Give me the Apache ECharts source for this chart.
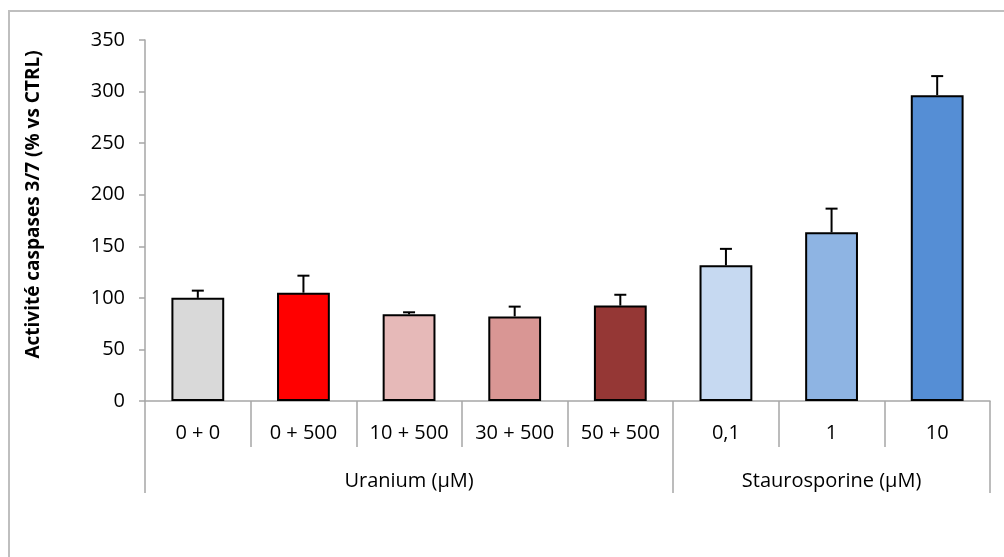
<!DOCTYPE html>
<html>
<head>
<meta charset="utf-8">
<script src="https://cdn.jsdelivr.net/npm/echarts@6/dist/echarts.min.js"></script>
<style>
  html, body { margin: 0; padding: 0; background: #fff; }
  #chart { width: 1004px; height: 557px; }
</style>
</head>
<body>
<div id="chart"></div>
<script>
// categories (level 1) and groups (level 2)
var categories = ["0 + 0", "0 + 500", "10 + 500", "30 + 500", "50 + 500", "0,1", "1", "10"];
var groupNames = ["Uranium (µM)", "Staurosporine (µM)"];
var groupBounds = [0, 5, 8]; // category index where each group starts / ends
// mean activity (% vs CTRL) and upper error
var means = [100, 105, 84, 82, 92.5, 131.5, 163.5, 296.5];
var errors = [7, 16.5, 2, 9.5, 10.5, 16, 23, 18.5];
var barColors = ["#D9D9D9", "#FF0000", "#E6B9B8", "#D99694", "#953735", "#C6D9F1", "#8EB4E3", "#558ED5"];
var yTicks = [0, 50, 100, 150, 200, 250, 300, 350];

var font = '"Open Sans", "Liberation Sans", sans-serif';
var axisGrey = "#A6A6A6";

var chart = echarts.init(document.getElementById("chart"));

var groupCenters = [];
for (var g = 0; g < groupNames.length; g++) {
  groupCenters.push((groupBounds[g] + groupBounds[g + 1]) / 2);
}

var option = {
  backgroundColor: "#fff",
  animation: false,
  graphic: [
    {
      // chart frame (Excel chart area border)
      type: "polyline",
      silent: true,
      shape: { points: [[9, 600], [9, 11], [1100, 11]] },
      style: { stroke: "#BFBFBF", lineWidth: 2, fill: null }
    }
  ],
  grid: {
    left: 145,
    right: 14,
    top: 40,
    bottom: 156,
    containLabel: false
  },
  xAxis: [
    {
      type: "category",
      data: categories,
      boundaryGap: true,
      axisLine: { show: true, lineStyle: { color: axisGrey, width: 1.5 } },
      axisTick: {
        show: true,
        interval: 0,
        length: 46,
        lineStyle: { color: axisGrey, width: 1.5 }
      },
      axisLabel: {
        interval: 0,
        margin: 22,
        color: "#000",
        fontFamily: font,
        fontSize: 20
      },
      splitLine: { show: false }
    },
    {
      // second level of the category axis: groups
      type: "value",
      position: "bottom",
      offset: 46,
      min: 0,
      max: categories.length,
      axisLine: { show: false },
      axisTick: {
        show: true,
        customValues: groupBounds,
        length: 46,
        lineStyle: { color: axisGrey, width: 1.5 }
      },
      axisLabel: {
        show: true,
        customValues: groupCenters,
        margin: 24,
        color: "#000",
        fontFamily: font,
        fontSize: 20,
        formatter: function (v) {
          var i = groupCenters.indexOf(v);
          return i >= 0 ? groupNames[i] : "";
        }
      },
      splitLine: { show: false }
    }
  ],
  yAxis: {
    type: "value",
    min: yTicks[0],
    max: yTicks[yTicks.length - 1],
    interval: 50,
    name: "Activité caspases 3/7 (% vs CTRL)",
    nameLocation: "middle",
    nameRotate: 90,
    nameGap: 102,
    nameTextStyle: {
      color: "#000",
      fontFamily: font,
      fontSize: 19,
      fontWeight: "bold",
      padding: [0, 0, 0, 32]
    },
    axisLine: { show: true, lineStyle: { color: axisGrey, width: 1.5 } },
    axisTick: { show: true, length: 6, lineStyle: { color: axisGrey, width: 1.5 } },
    axisLabel: {
      margin: 20,
      color: "#000",
      fontFamily: font,
      fontSize: 20
    },
    splitLine: { show: false }
  },
  series: [
    {
      type: "bar",
      xAxisIndex: 0,
      barWidth: "50%",
      data: means.map(function (v, i) {
        return {
          value: v,
          itemStyle: { color: barColors[i], borderColor: "#000", borderWidth: 2 }
        };
      })
    },
    {
      // upper error bars
      type: "custom",
      xAxisIndex: 0,
      z: 1,
      data: means.map(function (v, i) { return [i, v, v + errors[i]]; }),
      renderItem: function (params, api) {
        var base = api.coord([api.value(0), api.value(1)]);
        var top = api.coord([api.value(0), api.value(2)]);
        var half = 6;
        var style = { stroke: "#000", lineWidth: 2 };
        return {
          type: "group",
          children: [
            { type: "line", shape: { x1: base[0], y1: base[1], x2: top[0], y2: top[1] }, style: style },
            { type: "line", shape: { x1: top[0] - half, y1: top[1], x2: top[0] + half, y2: top[1] }, style: style }
          ]
        };
      }
    }
  ]
};

chart.setOption(option);
</script>
</body>
</html>
